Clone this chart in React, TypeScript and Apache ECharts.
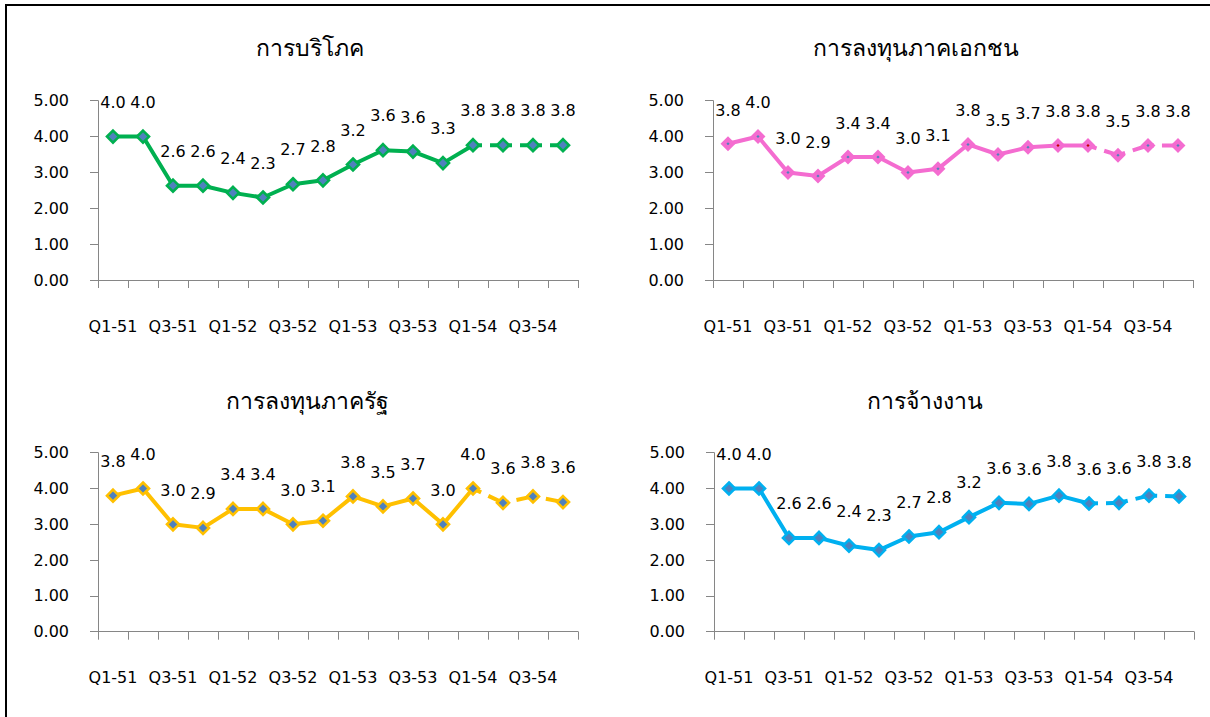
import React, { useEffect, useRef } from "react";
import * as echarts from "echarts";

const categories = [
  "Q1-51", "Q2-51", "Q3-51", "Q4-51",
  "Q1-52", "Q2-52", "Q3-52", "Q4-52",
  "Q1-53", "Q2-53", "Q3-53", "Q4-53",
  "Q1-54", "Q2-54", "Q3-54", "Q4-54",
];

const titles = ["การบริโภค", "การลงทุนภาคเอกชน", "การลงทุนภาครัฐ", "การจ้างงาน"];

const consumption = [4.0, 4.0, 2.63, 2.63, 2.43, 2.3, 2.67, 2.78, 3.22, 3.62, 3.58, 3.26, 3.76, 3.76, 3.76, 3.76];
const privateInvestment = [3.8, 4.0, 3.0, 2.9, 3.43, 3.43, 3.0, 3.1, 3.78, 3.5, 3.7, 3.75, 3.75, 3.48, 3.75, 3.75];
const publicInvestment = [3.8, 4.0, 3.0, 2.9, 3.43, 3.43, 3.0, 3.1, 3.78, 3.5, 3.72, 3.0, 4.0, 3.6, 3.78, 3.62];
const employment = [4.0, 4.0, 2.62, 2.62, 2.4, 2.28, 2.66, 2.78, 3.2, 3.6, 3.57, 3.8, 3.58, 3.6, 3.8, 3.78];

const lastActualIndex = 12;
const redMarkerIndexes = [[], [11, 12], [], []];

const panelSeries = [consumption, privateInvestment, publicInvestment, employment];
const lineColors = ["#00B050", "#F46CD0", "#FFC000", "#00B0F0"];
const innerColors = ["#4F81BD", "#4F81BD", "#4F81BD", "#4F81BD"];
const symbolSizes = [12, 9, 12, 12];
const borderWidths = [2.6, 4.2, 2.6, 2.6];

const grids = [
  { left: 98, top: 100.7, width: 480, height: 179.3 },
  { left: 713, top: 100.7, width: 480, height: 179.3 },
  { left: 98, top: 452.7, width: 480, height: 179 },
  { left: 714, top: 452.7, width: 480, height: 179 },
];
const titlePos = [
  [310, 47],
  [916, 47],
  [307, 400],
  [925, 400],
];

const FONT = "DejaVu Sans";

export default function App() {
  const ref = useRef<HTMLDivElement>(null);
  useEffect(() => {
    if (!ref.current) return;
    const chart = echarts.init(ref.current, null, { renderer: "svg" });
    const xAxis: any[] = [];
    const yAxis: any[] = [];
    const series: any[] = [];
    grids.forEach((g, i) => {
      xAxis.push({
        type: "category",
        gridIndex: i,
        data: categories,
        boundaryGap: true,
        axisLine: { show: true, lineStyle: { color: "#868686", width: 1 } },
        axisTick: { show: true, interval: 0, alignWithLabel: false, length: 8, lineStyle: { color: "#868686" } },
        axisLabel: { interval: 1, margin: 38, color: "#000", fontSize: 16, fontFamily: FONT },
        splitLine: { show: false },
      });
      yAxis.push({
        type: "value",
        gridIndex: i,
        min: 0,
        max: 5,
        interval: 1,
        axisLine: { show: true, lineStyle: { color: "#868686", width: 1 } },
        axisTick: { show: true, length: 8, lineStyle: { color: "#868686" } },
        axisLabel: {
          margin: 29,
          color: "#000",
          fontSize: 16,
          fontFamily: FONT,
          formatter: (v: number) => v.toFixed(2),
        },
        splitLine: { show: false },
      });
      const values = panelSeries[i];
      const solid = values.map((v, k) => (k <= lastActualIndex ? v : null));
      const dashed = values.map((v, k) => (k >= lastActualIndex ? v : null));
      series.push({
        type: "line",
        xAxisIndex: i,
        yAxisIndex: i,
        data: solid,
        showSymbol: false,
        symbol: "none",
        lineStyle: { color: lineColors[i], width: 4 },
        z: 2,
      });
      series.push({
        type: "line",
        xAxisIndex: i,
        yAxisIndex: i,
        data: dashed,
        showSymbol: false,
        symbol: "none",
        lineStyle: { color: lineColors[i], width: 4, type: [22, 8], dashOffset: 13 },
        z: 2,
      });
      series.push({
        type: "line",
        xAxisIndex: i,
        yAxisIndex: i,
        data: values.map((v, k) =>
          redMarkerIndexes[i].indexOf(k) >= 0
            ? { value: v, itemStyle: { color: "#C00000" } }
            : v
        ),
        symbol: "diamond",
        symbolSize: symbolSizes[i],
        showSymbol: true,
        lineStyle: { opacity: 0, width: 0 },
        itemStyle: {
          color: innerColors[i],
          borderColor: lineColors[i],
          borderWidth: borderWidths[i],
        },
        label: {
          show: true,
          position: "top",
          distance: 19,
          color: "#000",
          fontSize: 16,
          fontFamily: FONT,
          formatter: (p: any) => Number(p.value).toFixed(1),
        },
        labelLayout: { hideOverlap: false },
        z: 3,
      });
    });
    const graphic: any[] = [
      {
        type: "rect",
        shape: { x: 6, y: 5, width: 1220, height: 730 },
        style: { fill: "none", stroke: "#000", lineWidth: 2 },
        silent: true,
      },
    ];
    titles.forEach((t, i) => {
      graphic.push({
        type: "text",
        x: titlePos[i][0],
        y: titlePos[i][1],
        style: {
          text: t,
          textAlign: "center",
          textVerticalAlign: "middle",
          fontSize: 23,
          fontFamily: "Noto Sans, DejaVu Sans, sans-serif",
          fill: "#000",
        },
      });
    });
    chart.setOption({
      animation: false,
      backgroundColor: "#fff",
      grid: grids,
      xAxis,
      yAxis,
      series,
      graphic,
    });
    return () => chart.dispose();
  }, []);
  return (
    <div
      ref={ref}
      style={{ position: "fixed", left: 0, top: 0, width: 1210, height: 717 }}
    />
  );
}
